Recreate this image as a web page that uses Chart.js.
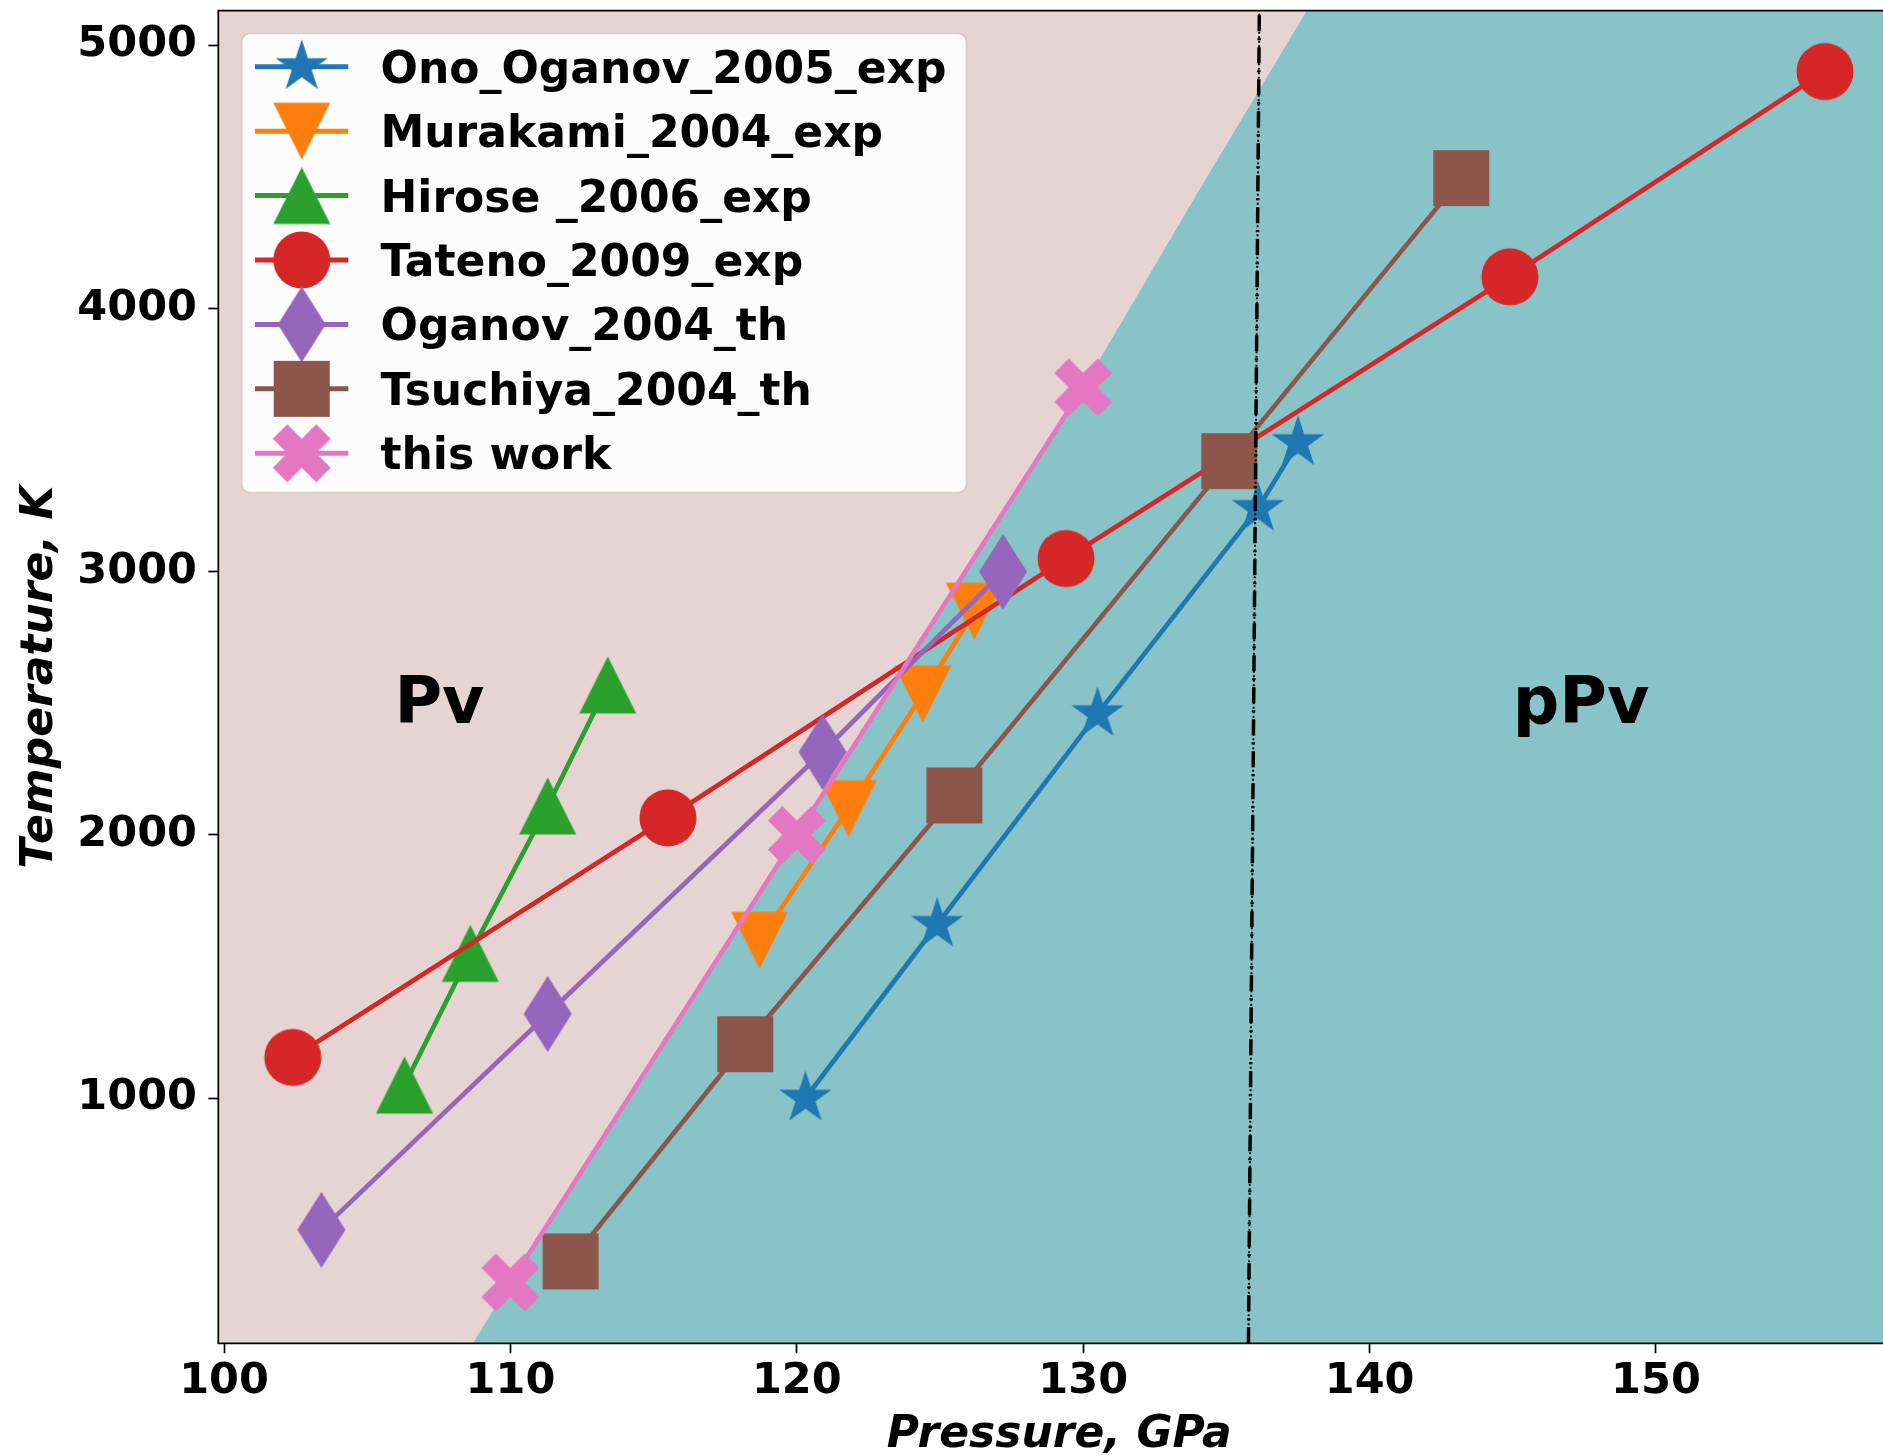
<!DOCTYPE html>
<html>
<head>
<meta charset="utf-8">
<script src="https://cdn.jsdelivr.net/npm/chart.js@4.4.1/dist/chart.umd.min.js"></script>
<style>
  html, body { margin: 0; padding: 0; background: #ffffff; overflow: hidden; }
  #wrap { width: 1905px; height: 1455px; }
</style>
</head>
<body>
<div id="wrap"><canvas id="c" width="1905" height="1455"></canvas></div>
<script>
// Pressure (GPa) and temperature (K) of the Pv -> pPv transition, per study
const onoP = [120.3, 124.9, 130.5, 136.1, 137.5];
const onoT = [1000, 1660, 2460, 3240, 3490];
const murakamiP = [118.7, 121.8, 124.4, 126.2];
const murakamiT = [1600, 2100, 2535, 2850];
const hiroseP = [106.3, 108.6, 111.3, 113.4];
const hiroseT = [1050, 1550, 2110, 2570];
const tatenoP = [102.4, 115.5, 129.4, 144.9, 155.9];
const tatenoT = [1155, 2065, 3050, 4120, 4900];
const oganovP = [103.4, 111.3, 120.9, 127.2];
const oganovT = [500, 1320, 2315, 3000];
const tsuchiyaP = [112.1, 118.2, 125.5, 135.1, 143.2];
const tsuchiyaT = [380, 1205, 2150, 3420, 4495];
const thisWorkP = [110, 120, 130];
const thisWorkT = [300, 2000, 3700];

// Phase boundary separating the Pv field (left) from the pPv field (right)
const boundaryP = [90, 108.3, 110, 120, 130, 134, 137.8, 140];
const boundaryT = [0, 0, 300, 2000, 3700, 4440, 5130, 5530];

// Near-vertical reference line
const refLineP = [135.77, 136.15];
const refLineT = [69, 5131];

const seriesNames = ['Ono_Oganov_2005_exp', 'Murakami_2004_exp', 'Hirose _2006_exp',
  'Tateno_2009_exp', 'Oganov_2004_th', 'Tsuchiya_2004_th', 'this work'];
const xTicks = [100, 110, 120, 130, 140, 150];
const yTicks = [1000, 2000, 3000, 4000, 5000];
const phaseNames = ['Pv', 'pPv'];
const phaseNameP = [105.95, 145.0];
const phaseNameT = [2425, 2425];

// ---- styling ----
const FONT = 'DejaVu Sans';
const COLORS = ['#1f77b4', '#ff7f0e', '#2ca02c', '#d62728', '#9467bd', '#8c564b', '#e377c2'];
const PV_FILL = '#e5d4d1';
const PPV_FILL = '#88c4c7';
const LINE_W = 4.7;

function pairs(px, py) { return px.map((p, i) => ({ x: p, y: py[i] })); }

// Marker glyphs drawn onto small canvases and used as point styles
function glyph(color, shape) {
  const c = document.createElement('canvas');
  c.width = 84; c.height = 84;
  const g = c.getContext('2d');
  g.translate(42, 42);
  g.fillStyle = color;
  g.beginPath();
  shape(g);
  g.closePath();
  g.fill();
  return c;
}
const shapes = {
  star(g) {
    const R = 27.5, r = R * 0.381966;
    for (let i = 0; i < 10; i++) {
      const a = -Math.PI / 2 + i * Math.PI / 5;
      const rr = i % 2 ? r : R;
      g.lineTo(rr * Math.cos(a), rr * Math.sin(a));
    }
  },
  triDown(g) { const h = 28.5; g.moveTo(-h, -h); g.lineTo(h, -h); g.lineTo(0, h); },
  triUp(g) { const h = 28.5; g.moveTo(0, -h); g.lineTo(h, h); g.lineTo(-h, h); },
  circle(g) { g.arc(0, 0, 28.5, 0, Math.PI * 2); },
  thinDiamond(g) { g.moveTo(0, -38); g.lineTo(24, 0); g.lineTo(0, 38); g.lineTo(-24, 0); },
  square(g) { const h = 28; g.rect(-h, -h, 2 * h, 2 * h); },
  xFilled(g) {
    const a = 30.75, b = 10.25;
    const pts = [[-b, -a], [b, -a], [b, -b], [a, -b], [a, b], [b, b], [b, a], [-b, a], [-b, b], [-a, b], [-a, -b], [-b, -b]];
    const cs = Math.SQRT1_2;
    pts.forEach(([x, y], i) => {
      const rx = (x - y) * cs, ry = (x + y) * cs;
      if (i === 0) g.moveTo(rx, ry); else g.lineTo(rx, ry);
    });
  }
};
const shapeOrder = ['star', 'triDown', 'triUp', 'circle', 'thinDiamond', 'square', 'xFilled'];
const markers = shapeOrder.map((s, i) => glyph(COLORS[i], shapes[s]));

const seriesP = [onoP, murakamiP, hiroseP, tatenoP, oganovP, tsuchiyaP, thisWorkP];
const seriesT = [onoT, murakamiT, hiroseT, tatenoT, oganovT, tsuchiyaT, thisWorkT];

const studyDatasets = seriesNames.map((name, i) => ({
  label: name,
  data: pairs(seriesP[i], seriesT[i]),
  borderColor: COLORS[i],
  backgroundColor: COLORS[i],
  borderWidth: LINE_W,
  pointStyle: markers[i],
  pointRadius: 28,
  pointHoverRadius: 28,
  fill: false,
  tension: 0,
  order: 8 - i
}));

const datasets = [
  {
    label: 'boundary',
    data: pairs(boundaryP, boundaryT),
    borderWidth: 0,
    borderColor: 'rgba(0,0,0,0)',
    backgroundColor: PV_FILL,
    pointRadius: 0,
    fill: 'end',
    tension: 0,
    order: 9
  },
  ...studyDatasets,
  {
    label: 'ref-dot',
    data: pairs(refLineP, refLineT),
    borderColor: '#000000',
    borderWidth: 2,
    borderDash: [2, 2.5],
    pointRadius: 0,
    fill: false,
    order: 1
  },
  {
    label: 'ref-dashdot',
    data: pairs(refLineP, refLineT),
    borderColor: '#000000',
    borderWidth: 3.5,
    borderDash: [16, 7, 2, 7],
    pointRadius: 0,
    fill: false,
    order: 0
  }
];

const decor = {
  id: 'decor',
  beforeDraw(chart) {
    const { ctx, chartArea: a } = chart;
    ctx.save();
    ctx.fillStyle = PPV_FILL;
    ctx.fillRect(a.left, a.top, a.right - a.left, a.bottom - a.top);
    ctx.restore();
  },
  afterDatasetsDraw(chart) {
    const { ctx, scales } = chart;
    ctx.save();
    ctx.fillStyle = '#000';
    ctx.font = `bold 65px "${FONT}"`;
    ctx.textAlign = 'left';
    ctx.textBaseline = 'alphabetic';
    phaseNames.forEach((t, i) => {
      ctx.fillText(t, scales.x.getPixelForValue(phaseNameP[i]), scales.y.getPixelForValue(phaseNameT[i]));
    });
    ctx.restore();
  },
  afterDraw(chart) {
    const { ctx, chartArea: a } = chart;
    ctx.save();
    // axes frame
    ctx.strokeStyle = '#000';
    ctx.lineWidth = 1.7;
    ctx.beginPath();
    ctx.moveTo(a.right, a.top);
    ctx.lineTo(a.left, a.top);
    ctx.lineTo(a.left, a.bottom);
    ctx.lineTo(a.right, a.bottom);
    ctx.stroke();

    // legend
    const fs = 44;
    ctx.font = `bold ${fs}px "${FONT}"`;
    const textLeft = 380.5;
    let maxW = 0;
    seriesNames.forEach(n => { maxW = Math.max(maxW, ctx.measureText(n).width); });
    const bx = 241.7, by = 33.3, bw = textLeft + maxW + 20 - bx, bh = 459.4;
    ctx.beginPath();
    ctx.roundRect(bx, by, bw, bh, 9);
    ctx.fillStyle = 'rgba(255,255,255,0.93)';
    ctx.fill();
    ctx.strokeStyle = 'rgba(204,204,204,0.8)';
    ctx.lineWidth = 1.7;
    ctx.stroke();
    const rowH = 64.43;
    seriesNames.forEach((n, i) => {
      const cy = 66.7 + i * rowH;
      ctx.strokeStyle = COLORS[i];
      ctx.lineWidth = 5;
      ctx.beginPath();
      ctx.moveTo(255, cy);
      ctx.lineTo(348.3, cy);
      ctx.stroke();
      const m = markers[i];
      ctx.drawImage(m, 301.7 - m.width / 2, cy - m.height / 2);
      ctx.fillStyle = '#000';
      ctx.textBaseline = 'alphabetic';
      ctx.textAlign = 'left';
      ctx.fillText(n, textLeft, cy + 0.3645 * fs);
    });
    ctx.restore();
  }
};

const tickFont = { family: FONT, size: 43, weight: 'bold' };
const titleFont = { family: FONT, size: 44, weight: 'bold', style: 'italic', lineHeight: 0.9 };

// Keep the plot area fixed: no extra room reserved for overhanging tick labels
function noOverhang(axis) {
  axis.paddingLeft = 0; axis.paddingRight = 0;
  axis.paddingTop = 0; axis.paddingBottom = 0;
}

new Chart(document.getElementById('c'), {
  type: 'line',
  data: { datasets },
  options: {
    responsive: false,
    animation: false,
    events: [],
    layout: { autoPadding: false, padding: { left: 0, top: 10.7, right: 5, bottom: 0 } },
    plugins: { legend: { display: false }, tooltip: { enabled: false } },
    scales: {
      x: {
        type: 'linear',
        min: 99.8,
        max: 158.52,
        border: { display: false },
        grid: { drawOnChartArea: false, drawTicks: true, tickLength: 10, tickColor: '#000', tickWidth: 1.7 },
        ticks: { font: tickFont, color: '#000', padding: 2.6, maxRotation: 0, callback: v => String(v) },
        afterBuildTicks: axis => { axis.ticks = xTicks.map(v => ({ value: v })); },
        afterFit: axis => { axis.height = 111.7; noOverhang(axis); },
        title: { display: true, text: 'Pressure, GPa', font: titleFont, color: '#000', padding: { top: 0, bottom: 0 } }
      },
      y: {
        type: 'linear',
        min: 69,
        max: 5131,
        border: { display: false },
        grid: { drawOnChartArea: false, drawTicks: true, tickLength: 10, tickColor: '#000', tickWidth: 1.7 },
        ticks: { font: tickFont, color: '#000', padding: 11.3, callback: v => String(v) },
        afterBuildTicks: axis => { axis.ticks = yTicks.map(v => ({ value: v })); },
        afterFit: axis => { axis.width = 218.3; noOverhang(axis); },
        title: { display: true, text: 'Temperature, K', font: titleFont, color: '#000', padding: { top: 20.5, bottom: 0 } }
      }
    }
  },
  plugins: [decor]
});
</script>
</body>
</html>
